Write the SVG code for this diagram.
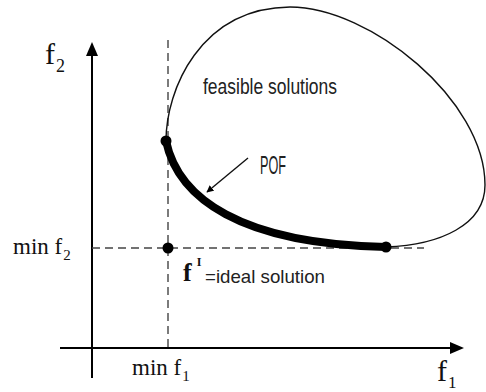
<svg xmlns="http://www.w3.org/2000/svg" width="486" height="392" viewBox="0 0 486 392">
<defs>
<marker id="ah" viewBox="0 0 10 10" refX="9" refY="5" markerWidth="7" markerHeight="7" markerUnits="userSpaceOnUse" orient="auto">
<path d="M0,0 L10,5 L0,10 z" fill="#000"/>
</marker>
<style>
.serif{font-family:"Liberation Serif","DejaVu Serif",serif;fill:#111}
.lbl{font-family:"Liberation Sans","DejaVu Sans",sans-serif;fill:#222;font-weight:normal}
.axis{stroke:#000;stroke-width:2;fill:none}
.dash{stroke:#444;stroke-width:1.4;stroke-dasharray:8,5;fill:none}
</style>
</defs>
<rect width="486" height="392" fill="#fff"/>
<g id="connectors">
<line class="axis" x1="92" y1="378" x2="92" y2="56"/>
<path d="M92,42 L86,56 L98,56 z" fill="#000"/>
<line class="axis" x1="60" y1="348" x2="450" y2="348"/>
<path d="M464,348 L450,342 L450,354 z" fill="#000"/>
<line class="dash" x1="168" y1="40" x2="168" y2="348"/>
<line class="dash" x1="92" y1="248" x2="424" y2="248"/>
<line x1="248" y1="158" x2="207" y2="192" stroke="#111" stroke-width="1.4" marker-end="url(#ah)"/>
</g>
<g id="feasible-region">
<path d="M166,141 C166,90 200,8 290,7 C370,7 485,100 485,185 C485,225 440,245 386,247" fill="none" stroke="#111" stroke-width="1.4"/>
<text class="lbl" x="203" y="94" font-size="22" textLength="134" lengthAdjust="spacingAndGlyphs">feasible solutions</text>
</g>
<g id="pof">
<path d="M166,141 C178,198 240,244 386,247" fill="none" stroke="#000" stroke-width="8"/>
<circle cx="166" cy="141" r="5.5" fill="#000"/>
<circle cx="386" cy="247" r="5.5" fill="#000"/>
<text class="lbl" x="260" y="174" font-size="25" textLength="26" lengthAdjust="spacingAndGlyphs">POF</text>
</g>
<g id="ideal">
<circle cx="168" cy="248" r="5.5" fill="#000"/>
<text class="serif" x="183" y="281" font-size="26" font-weight="bold">f<tspan font-size="12" dx="5" dy="-15">I</tspan><tspan class="lbl" x="205" y="283" font-size="19" textLength="120" lengthAdjust="spacingAndGlyphs">=ideal solution</tspan></text>
</g>
<g id="labels">
<text class="serif" x="45" y="64" font-size="30">f<tspan font-size="18" dx="1" dy="8">2</tspan></text>
<text class="serif" x="13" y="254" font-size="23">min f<tspan font-size="15" dx="1" dy="6">2</tspan></text>
<text class="serif" x="132" y="375" font-size="23">min f<tspan font-size="15" dx="1" dy="6">1</tspan></text>
<text class="serif" x="437" y="381" font-size="30">f<tspan font-size="17" dx="1" dy="7">1</tspan></text>
</g>
</svg>
